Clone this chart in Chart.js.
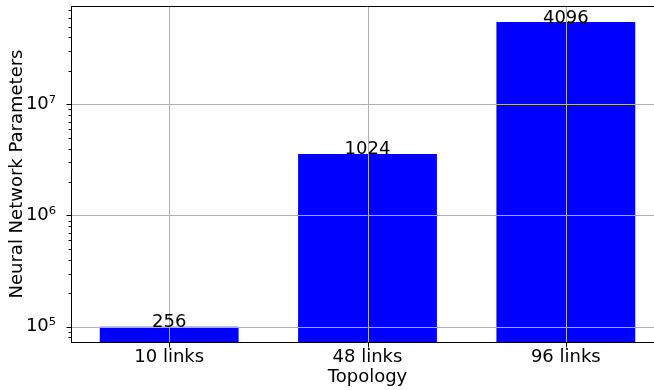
<!DOCTYPE html>
<html>
<head>
<meta charset="utf-8">
<script src="https://cdn.jsdelivr.net/npm/chart.js@4.4.0/dist/chart.umd.min.js"></script>
<style>
  html, body { margin: 0; padding: 0; overflow: hidden; background: #fff; }
</style>
</head>
<body>
<canvas id="chart" width="664" height="390"></canvas>
<script>
// Parameter count per topology (log scale), hidden width noted over each bar.
const topologies = ["10 links", "48 links", "96 links"];
const paramCounts = [1.0e5, 3.58e6, 5.49e7];
const barNotes = ["256", "1024", "4096"];
const yMin = 7.28e4;
const yMax = 7.66e7;

const FONT = "DejaVu Sans";
const SUP = { "4": "⁴", "5": "⁵", "6": "⁶", "7": "⁷", "8": "⁸" };

function isDecade(v) {
    const e = Math.log10(v);
    return Math.abs(e - Math.round(e)) < 1e-9;
}

// grid, tick marks, spines and notes are painted over the bars
const overlay = {
    id: 'overlay',
    afterDatasetsDraw(chart) {
        const ctx = chart.ctx;
        const area = chart.chartArea;
        const xs = chart.scales.x, ys = chart.scales.y;
        const L = Math.round(area.left) + 0.5;
        const B = Math.round(area.bottom) + 0.5;
        const T = Math.round(area.top) + 0.5;
        ctx.save();
        ctx.lineWidth = 1;

        // grid
        ctx.strokeStyle = '#b0b0b0';
        ctx.beginPath();
        xs.ticks.forEach(t => {
            const px = Math.round(xs.getPixelForValue(t.value)) + 0.5;
            ctx.moveTo(px, area.top);
            ctx.lineTo(px, area.bottom);
        });
        ys.ticks.forEach(t => {
            if (!isDecade(t.value)) return;
            const py = Math.round(ys.getPixelForValue(t.value)) + 0.5;
            ctx.moveTo(area.left, py);
            ctx.lineTo(area.right, py);
        });
        ctx.stroke();

        // tick marks
        ctx.strokeStyle = '#000';
        ctx.beginPath();
        xs.ticks.forEach(t => {
            const px = Math.round(xs.getPixelForValue(t.value)) + 0.5;
            ctx.moveTo(px, B);
            ctx.lineTo(px, B + 5);
        });
        ys.ticks.forEach(t => {
            const py = Math.round(ys.getPixelForValue(t.value)) + 0.5;
            ctx.moveTo(L, py);
            ctx.lineTo(L - (isDecade(t.value) ? 5 : 3), py);
        });
        ctx.stroke();

        // spines (left, bottom, top)
        ctx.beginPath();
        ctx.moveTo(L, T);
        ctx.lineTo(L, B);
        ctx.moveTo(area.left, B);
        ctx.lineTo(area.right, B);
        ctx.moveTo(area.left, T);
        ctx.lineTo(area.right, T);
        ctx.stroke();

        // notes over the bars
        ctx.fillStyle = '#000';
        ctx.font = '18px "' + FONT + '"';
        ctx.textAlign = 'center';
        ctx.textBaseline = 'alphabetic';
        chart.getDatasetMeta(0).data.forEach((bar, i) => {
            ctx.fillText(barNotes[i], bar.x, bar.y + 0.5);
        });
        ctx.restore();
    }
};

new Chart(document.getElementById('chart'), {
    type: 'bar',
    data: {
        datasets: [{
            data: paramCounts.map((v, i) => ({ x: i, y: v })),
            backgroundColor: '#0000ff',
            borderWidth: 0,
            barPercentage: 0.7,
            categoryPercentage: 1.0
        }]
    },
    options: {
        responsive: false,
        animation: false,
        layout: { padding: { top: 6, right: 0, bottom: 0, left: 0 } },
        plugins: { legend: { display: false }, tooltip: { enabled: false } },
        scales: {
            x: {
                type: 'linear',
                offset: false,
                min: -0.495,
                max: 2.495,
                afterBuildTicks(scale) {
                    scale.ticks = topologies.map((_, i) => ({ value: i }));
                },
                afterFit(scale) {
                    scale.height = 48;
                    scale.paddingLeft = 0;
                    scale.paddingRight = 0;
                },
                grid: { display: false },
                border: { display: false },
                ticks: {
                    autoSkip: false,
                    maxRotation: 0,
                    padding: -3,
                    color: '#000',
                    font: { family: FONT, size: 18 },
                    callback: v => topologies[v] ?? ''
                },
                title: {
                    display: true,
                    text: 'Topology',
                    color: '#000',
                    font: { family: FONT, size: 18 },
                    padding: { top: 0, bottom: 2 }
                }
            },
            y: {
                type: 'logarithmic',
                min: yMin,
                max: yMax,
                afterBuildTicks(scale) {
                    const ticks = [];
                    for (let e = 4; e <= 7; e++) {
                        for (let m = 1; m <= 9; m++) {
                            const v = m * Math.pow(10, e);
                            if (v >= yMin && v <= yMax) ticks.push({ value: v });
                        }
                    }
                    scale.ticks = ticks;
                },
                afterFit(scale) {
                    scale.width = 71;
                    scale.paddingTop = 0;
                    scale.paddingBottom = 0;
                },
                grid: { display: false },
                border: { display: false },
                ticks: {
                    autoSkip: false,
                    padding: 7,
                    color: '#000',
                    font: { family: FONT, size: 18 },
                    callback: v => isDecade(v) ? '10' + SUP[String(Math.round(Math.log10(v)))] : ''
                },
                title: {
                    display: true,
                    text: 'Neural Network Parameters',
                    color: '#000',
                    font: { family: FONT, size: 18 },
                    padding: { top: 7, bottom: 0 }
                }
            }
        }
    },
    plugins: [overlay]
});
</script>
</body>
</html>
